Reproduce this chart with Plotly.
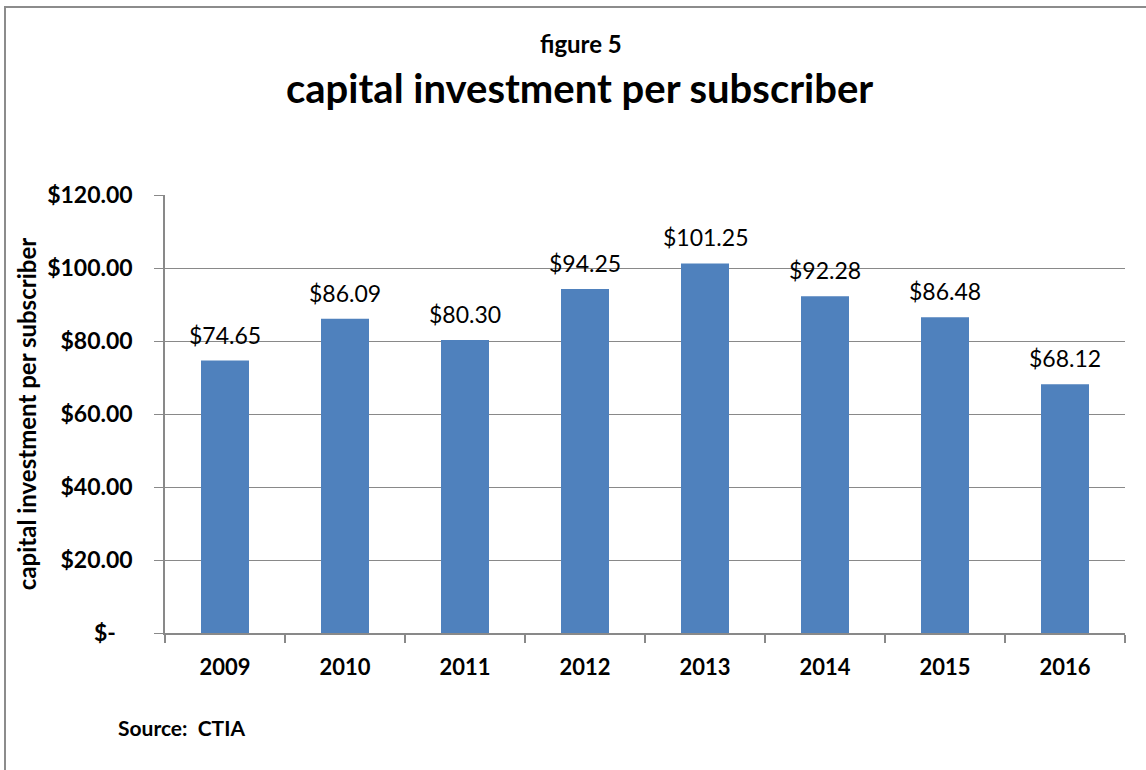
import plotly.graph_objects as go

years = ["2009", "2010", "2011", "2012", "2013", "2014", "2015", "2016"]
invest_per_sub = [74.65, 86.09, 80.30, 94.25, 101.25, 92.28, 86.48, 68.12]
tick_vals = [0, 20, 40, 60, 80, 100, 120]
tick_text = ["$-\u00a0\u00a0\u00a0", "$20.00", "$40.00", "$60.00", "$80.00", "$100.00", "$120.00"]

FONT = "Lato, Calibri, Arial, sans-serif"
GRID = "#898989"

# plot-area geometry in pixels, used to place the free-floating text
PLOT_L, PLOT_T, PLOT_W, PLOT_H = 165, 195, 960, 438


def px_x(x):
    return (x - PLOT_L) / PLOT_W


def px_y(y):
    return 1 - (y - PLOT_T) / PLOT_H


fig = go.Figure(
    go.Bar(
        x=years,
        y=invest_per_sub,
        marker=dict(color="#4F81BD", line=dict(width=0)),
        width=0.4,
        hoverinfo="x+y",
    )
)

# value labels above each bar (x given as category index)
value_labels = [
    dict(
        x=i, y=v, xref="x", yref="y",
        text=f"${v:.2f}", showarrow=False,
        xanchor="center", yanchor="bottom", yshift=10,
        font=dict(family=FONT, size=23, color="#000000"),
    )
    for i, v in enumerate(invest_per_sub)
]

fig.update_layout(
    width=1146,
    height=770,
    margin=dict(l=PLOT_L, r=1146 - PLOT_L - PLOT_W, t=PLOT_T, b=770 - PLOT_T - PLOT_H),
    paper_bgcolor="white",
    plot_bgcolor="white",
    showlegend=False,
    font=dict(family=FONT, color="#000000"),
    xaxis=dict(
        type="category",
        categoryorder="array",
        categoryarray=years,
        range=[-0.5, len(years) - 0.5],
        showgrid=False,
        showline=True,
        linecolor=GRID,
        linewidth=1.5,
        ticks="outside",
        ticklen=8,
        tickcolor=GRID,
        tickwidth=1.5,
        tickson="boundaries",
        tickangle=0,
        tickfont=dict(family=FONT, size=22, color="#000000", weight="bold"),
        ticklabelstandoff=14,
        fixedrange=True,
    ),
    yaxis=dict(
        range=[0, 120],
        tickvals=tick_vals,
        ticktext=tick_text,
        showgrid=True,
        gridcolor=GRID,
        gridwidth=1.2,
        showline=True,
        linecolor=GRID,
        linewidth=1.5,
        ticks="outside",
        ticklen=9,
        tickcolor=GRID,
        tickwidth=1.2,
        tickfont=dict(family=FONT, size=23, color="#000000", weight="bold"),
        ticklabelstandoff=17,
        zeroline=False,
        title=dict(
            text="capital investment per subscriber",
            font=dict(family=FONT, size=24, color="#000000", weight="bold"),
            standoff=4,
        ),
        fixedrange=True,
    ),
    shapes=[
        dict(
            type="rect", xref="paper", yref="paper",
            x0=px_x(5), x1=px_x(1160), y0=px_y(790), y1=px_y(7),
            line=dict(color="#8c8c8c", width=2),
            fillcolor="rgba(0,0,0,0)", layer="below",
        )
    ],
    annotations=value_labels + [
        dict(
            text="<b>figure 5</b>", xref="paper", yref="paper",
            x=px_x(581), y=px_y(44),
            xanchor="center", yanchor="middle", showarrow=False,
            font=dict(family=FONT, size=24, color="#000000"),
        ),
        dict(
            text="<b>capital investment per subscriber</b>", xref="paper", yref="paper",
            x=px_x(579), y=px_y(88),
            xanchor="center", yanchor="middle", showarrow=False,
            font=dict(family=FONT, size=40, color="#000000"),
        ),
        dict(
            text="<b>Source:\u00a0\u00a0CTIA</b>", xref="paper", yref="paper",
            x=px_x(116), y=px_y(727),
            xanchor="left", yanchor="middle", showarrow=False,
            font=dict(family=FONT, size=21, color="#000000"),
        ),
    ],
)

fig.write_html("out.html")
